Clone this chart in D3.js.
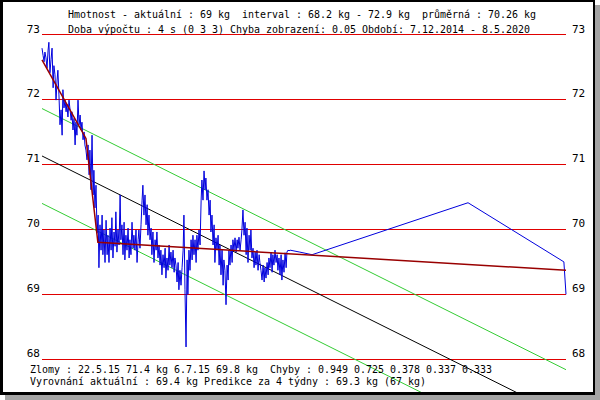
<!DOCTYPE html>
<html>
<head>
<meta charset="utf-8">
<script src="https://cdn.jsdelivr.net/npm/d3@7"></script>
<style>
  body { margin: 0; background: #fff; }
  text { font-family: "DejaVu Sans Mono", monospace; font-size: 10px; fill: #000; white-space: pre; }
  .lvl { font-size: 11px; }
</style>
</head>
<body>
<div id="chart"></div>
<script>
// period shown on the time axis
const startDate = '2014-12-07';
const endDate = '2020-05-08';

// weight levels with a red guide line
const levels = [68, 69, 70, 71, 72, 73];

// weigh-ins: days after the start date, and kg
const readingDays = [
  0, 4, 8, 11, 15, 19, 23, 26, 30, 34,
  38, 42, 45, 49, 53, 57, 60, 64, 68, 72,
  76, 79, 83, 87, 91, 94, 98, 102, 106, 110,
  113, 117, 121, 125, 128, 132, 136, 140, 144, 147,
  151, 155, 159, 162, 166, 170, 174, 178, 181, 185,
  189, 193, 196, 200, 204, 208, 212, 215, 219, 223,
  227, 230, 234, 238, 242, 246, 249, 253, 257, 261,
  264, 268, 272, 276, 279, 283, 287, 291, 295, 298,
  302, 306, 310, 313, 317, 321, 325, 329, 332, 336,
  340, 344, 347, 351, 355, 359, 363, 366, 370, 374,
  378, 381, 385, 389, 393, 397, 400, 404, 408, 412,
  415, 419, 423, 427, 431, 434, 438, 442, 446, 449,
  453, 457, 461, 465, 468, 472, 476, 480, 483, 487,
  491, 495, 499, 502, 506, 510, 514, 517, 521, 525,
  529, 533, 536, 540, 544, 548, 551, 555, 559, 563,
  567, 570, 574, 578, 582, 585, 589, 593, 597, 601,
  604, 608, 612, 616, 619, 623, 627, 631, 635, 638,
  642, 646, 650, 653, 657, 661, 665, 669, 672, 676,
  680, 684, 687, 691, 695, 699, 703, 706, 710, 714,
  718, 721, 725, 729, 733, 737, 740, 744, 748, 752,
  755, 759, 763, 767, 771, 774, 778, 782, 786, 789,
  793, 797, 801, 805, 808, 812, 816, 820, 823, 827,
  831, 835, 839, 842, 846, 850, 854, 857, 861, 865,
  869, 872, 876, 880, 884, 888, 891, 895, 899, 903,
  906, 910, 914, 918, 922, 925, 929, 933, 937,
  974, 1020, 1609, 1971, 1979
];
const readingKg = [
  72.79, 72.68, 72.58, 72.73, 72.64, 72.48, 72.76, 72.88, 72.41, 72.61,
  72.79, 72.18, 72.52, 72.38, 71.99, 72.30, 72.45, 72.07, 71.61, 71.84,
  71.45, 72.15, 71.87, 71.99, 71.81, 71.93, 71.73, 71.99, 71.84, 71.68,
  71.81, 71.53, 71.71, 71.30, 71.65, 71.45, 71.99, 71.61, 71.76, 71.53,
  71.65, 71.38, 71.50, 71.30, 71.22, 71.07, 71.30, 70.84, 71.22, 70.61,
  71.45, 70.53, 70.91, 70.33, 70.68, 69.94, 70.22, 69.41, 70.07, 69.68,
  70.22, 69.61, 69.99, 69.49, 70.14, 69.61, 69.91, 69.49, 70.02, 69.68,
  70.18, 69.56, 69.96, 69.74, 70.27, 69.65, 69.99, 69.76, 70.53, 69.84,
  70.07, 69.61, 70.11, 69.53, 69.91, 69.68, 70.02, 69.56, 69.84, 69.61,
  70.11, 69.71, 69.91, 69.68, 69.99, 69.49, 69.84, 69.99, 69.71, 70.07,
  70.45, 70.68, 70.22, 70.53, 70.07, 70.38, 69.91, 70.22, 69.84, 70.02,
  69.61, 69.96, 69.49, 69.84, 69.68, 69.96, 69.56, 69.76, 69.45, 69.68,
  69.30, 69.61, 69.41, 69.71, 69.25, 69.56, 69.37, 69.76, 69.45, 69.65,
  69.41, 69.68, 69.34, 69.56, 69.45, 69.19, 69.49, 69.07, 69.37, 69.14,
  69.41, 69.68, 70.22, 69.07, 68.19, 69.53, 69.00, 69.68, 69.37, 69.84,
  69.53, 69.91, 69.61, 69.84, 69.49, 69.91, 69.68, 69.99, 69.76, 70.45,
  70.76, 70.45, 70.90, 70.61, 70.79, 70.45, 70.61, 70.22, 70.45, 69.96,
  70.22, 69.76, 70.07, 69.49, 69.87, 69.68, 69.91, 69.45, 69.76, 69.30,
  69.68, 69.14, 69.53, 69.37, 68.84, 69.45, 69.22, 69.68, 69.45, 69.76,
  69.49, 69.84, 69.68, 69.87, 69.65, 69.84, 69.71, 69.88, 69.68, 69.84,
  69.99, 70.30, 69.91, 70.11, 69.61, 70.02, 69.49, 69.91, 69.68, 69.99,
  69.56, 69.71, 69.41, 69.65, 69.45, 69.68, 69.37, 69.61, 69.49, 69.37,
  69.22, 69.45, 69.19, 69.41, 69.25, 69.49, 69.30, 69.56, 69.41, 69.65,
  69.34, 69.61, 69.45, 69.68, 69.49, 69.61, 69.37, 69.56, 69.30, 69.61,
  69.22, 69.53, 69.34, 69.64, 69.41, 69.65, 69.68, 69.67, 69.68,
  69.65, 69.61, 70.41, 69.50, 69.00
];

// piecewise fit with the two break points (Zlomy)
const fitDates = ['2014-12-07', '2015-05-22', '2015-07-06', '2020-05-08'];
const fitKg = [72.61, 71.4, 69.8, 69.37];

// linear trend at start / end of period, and its band half-width
const trendKg = [71.13, 67.11];
const bandKg = 0.73;

const headerLines = [
  'Hmotnost - aktuální : 69 kg  interval : 68.2 kg - 72.9 kg  průměrná : 70.26 kg',
  'Doba výpočtu : 4 s (0 3 3) Chyba zobrazení: 0.05 Období: 7.12.2014 - 8.5.2020'
];
const footerLines = [
  'Zlomy : 22.5.15 71.4 kg 6.7.15 69.8 kg  Chyby : 0.949 0.725 0.378 0.337 0.333',
  'Vyrovnání aktuální : 69.4 kg Predikce za 4 týdny : 69.3 kg (67 kg)'
];

const parse = d3.timeParse('%Y-%m-%d');
const t0 = parse(startDate);
const t1 = parse(endDate);

const svg = d3.select('#chart')
  .append('svg')
  .attr('width', 600)
  .attr('height', 400);

// frame with shadow
svg.append('rect').attr('x', 5).attr('y', 5).attr('width', 595).attr('height', 395).attr('fill', '#a4a4a4');
svg.append('rect').attr('x', 0).attr('y', 0).attr('width', 595).attr('height', 395).attr('fill', '#000');
svg.append('rect').attr('x', 3).attr('y', 2).attr('width', 590).attr('height', 390).attr('fill', '#fff');

svg.append('clipPath').attr('id', 'inner')
  .append('rect').attr('x', 3).attr('y', 2).attr('width', 590).attr('height', 390);

const x = d3.scaleTime().domain([t0, t1]).range([42, 566]);
const y = d3.scaleLinear().domain([68, 73]).range([359.3, 34.5]);
const crisp = v => Math.floor(v) + 0.5;

// level lines and labels
svg.append('g')
  .selectAll('line')
  .data(levels)
  .enter()
  .append('line')
  .attr('x1', x(t0))
  .attr('x2', x(t1))
  .attr('y1', d => crisp(y(d)))
  .attr('y2', d => crisp(y(d)))
  .attr('stroke', '#e00000')
  .attr('stroke-width', 1);

svg.append('g')
  .selectAll('text')
  .data(levels)
  .enter()
  .append('text')
  .attr('class', 'lvl')
  .attr('x', x(t0) - 2)
  .attr('y', d => y(d) - 2)
  .attr('text-anchor', 'end')
  .text(d => d);

svg.append('g')
  .selectAll('text')
  .data(levels)
  .enter()
  .append('text')
  .attr('class', 'lvl')
  .attr('x', x(t1) + 6)
  .attr('y', d => y(d) - 2)
  .text(d => d);

const plot = svg.append('g').attr('clip-path', 'url(#inner)');

// trend and band
const trends = [
  { off: bandKg, color: '#33cc33' },
  { off: -bandKg, color: '#33cc33' },
  { off: 0, color: '#000' }
];
plot.selectAll('.trend')
  .data(trends)
  .enter()
  .append('line')
  .attr('class', 'trend')
  .attr('x1', x(t0))
  .attr('y1', d => y(trendKg[0] + d.off))
  .attr('x2', x(t1))
  .attr('y2', d => y(trendKg[1] + d.off))
  .attr('stroke', d => d.color)
  .attr('stroke-width', 1);

// weigh-ins
const readings = readingDays.map((d, i) => ({ date: d3.timeDay.offset(t0, d), kg: readingKg[i] }));
const line = d3.line().x(d => x(d.date)).y(d => y(d.kg));

plot.append('path')
  .datum(readings)
  .attr('d', line)
  .attr('fill', 'none')
  .attr('stroke', '#0000dd')
  .attr('stroke-width', 1);

// piecewise fit
const fit = fitDates.map((d, i) => ({ date: parse(d), kg: fitKg[i] }));
plot.append('path')
  .datum(fit)
  .attr('d', line)
  .attr('fill', 'none')
  .attr('stroke', '#990000')
  .attr('stroke-width', 1.5);

// texts
svg.append('g')
  .selectAll('text')
  .data(headerLines)
  .enter()
  .append('text')
  .attr('x', 68)
  .attr('y', (d, i) => 17.5 + i * 15)
  .attr('textLength', d => d.length * 6)
  .attr('lengthAdjust', 'spacingAndGlyphs')
  .text(d => d);

svg.append('g')
  .selectAll('text')
  .data(footerLines)
  .enter()
  .append('text')
  .attr('x', 30)
  .attr('y', (d, i) => 373 + i * 11.5)
  .attr('textLength', d => d.length * 6)
  .attr('lengthAdjust', 'spacingAndGlyphs')
  .text(d => d);
</script>
</body>
</html>
